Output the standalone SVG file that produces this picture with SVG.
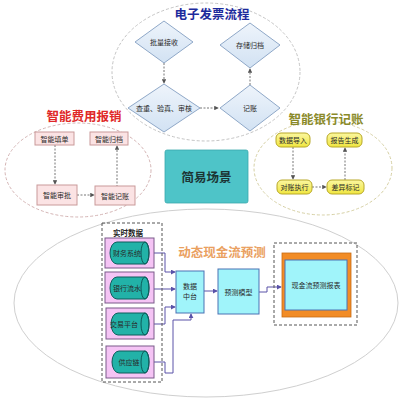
<svg xmlns="http://www.w3.org/2000/svg" width="408" height="408" viewBox="0 0 408 408">
<defs>
<style>
text{font-family:"Noto Sans CJK SC","Noto Sans",sans-serif;text-anchor:middle;dominant-baseline:central}
.t{font-size:7px;fill:#2a2a2a}
.title{font-size:12.5px;font-weight:bold}
.dia{fill:url(#dg);stroke:#8fa8c8;stroke-width:1}
.pk{fill:#fbe3e4;stroke:#c99a9a;stroke-width:1}
.yl{fill:url(#yg);stroke:#b8a828;stroke-width:1}
.dash{fill:none;stroke:#666;stroke-width:0.9;stroke-dasharray:2,1.5}
.conn{fill:none;stroke:#5a52a8;stroke-width:1}
.mag{fill:#f5c4f5;stroke:#7a5a8a;stroke-width:1}
.cyl{fill:#22b2a8;stroke:#0c5c5a;stroke-width:1}
.cy{fill:#a0f4fa;stroke:#4a72b4;stroke-width:1}
</style>
<linearGradient id="dg" x1="0" y1="0" x2="0" y2="1"><stop offset="0" stop-color="#eef4fb"/><stop offset="1" stop-color="#d2e2f3"/></linearGradient>
<linearGradient id="yg" x1="0" y1="0" x2="0" y2="1"><stop offset="0" stop-color="#fbf7a0"/><stop offset="1" stop-color="#f0e640"/></linearGradient>
<marker id="ag" viewBox="0 0 6 6" refX="5" refY="3" markerWidth="5" markerHeight="5" orient="auto"><path d="M0,0 L6,3 L0,6 z" fill="#555"/></marker>
<marker id="ab" viewBox="0 0 6 6" refX="5" refY="3" markerWidth="5" markerHeight="5" orient="auto"><path d="M0,0 L6,3 L0,6 z" fill="#5a52a8"/></marker>
</defs>
<rect width="408" height="408" fill="#ffffff"/>

<g id="areas">
<ellipse cx="206" cy="303" rx="192" ry="94" fill="none" stroke="#cfcfcf" stroke-width="1"/>
<ellipse cx="206" cy="72" rx="94" ry="69" fill="none" stroke="#c4c4c4" stroke-width="1" stroke-dasharray="3,2"/>
<ellipse cx="78" cy="170" rx="73" ry="47" fill="none" stroke="#d4b4b4" stroke-width="1" stroke-dasharray="3,2"/>
<ellipse cx="323" cy="168" rx="69" ry="47" fill="none" stroke="#d6d0a4" stroke-width="1" stroke-dasharray="3,2"/>
<text class="title" x="212" y="13" fill="#1c2a9c">电子发票流程</text>
<text class="title" x="84" y="115" fill="#e02828">智能费用报销</text>
<text class="title" x="326" y="118" fill="#8a8a2a">智能银行记账</text>
<text class="title" x="222" y="251" fill="#eaa060">动态现金流预测</text>
</g>

<g id="connectors">
<path class="dash" d="M164,63 V83" marker-end="url(#ag)"/>
<path class="dash" d="M200,108 H218" marker-end="url(#ag)"/>
<path class="dash" d="M250,85 V69" marker-end="url(#ag)"/>
<path class="dash" d="M55,145 V184" marker-end="url(#ag)"/>
<path class="dash" d="M77,195 H94" marker-end="url(#ag)"/>
<path class="dash" d="M117,187 V146" marker-end="url(#ag)"/>
<path class="dash" d="M293,147 V179" marker-end="url(#ag)"/>
<path class="dash" d="M312,187 H326" marker-end="url(#ag)"/>
<path class="dash" d="M345,180 V148" marker-end="url(#ag)"/>
<path class="conn" d="M149,253 H165 V272 H175" marker-end="url(#ab)"/>
<path class="conn" d="M149,289 H175" marker-end="url(#ab)"/>
<path class="conn" d="M149,324 H165 V307 H175" marker-end="url(#ab)"/>
<path class="conn" d="M149,362 H165 V373 H173 V320 H191 V314" marker-end="url(#ab)"/>
<path class="conn" d="M204,291 H217" marker-end="url(#ab)"/>
<path class="conn" d="M259,292 H267 V287 H281" marker-end="url(#ab)"/>
</g>

<g id="n-pljs"><path class="dia" d="M164,21 L193,42 L164,63 L135,42 Z"/><text class="t" x="164" y="42">批量接收</text></g>
<g id="n-cccd"><path class="dia" d="M250,23 L280,45 L250,68 L220,45 Z"/><text class="t" x="250" y="45">存储归档</text></g>
<g id="n-czyz"><path class="dia" d="M164,84 L200,108 L164,132 L128,108 Z"/><text class="t" x="164" y="108">查重、验真、审核</text></g>
<g id="n-jz"><path class="dia" d="M250,85 L280,108 L250,131 L220,108 Z"/><text class="t" x="250" y="108">记账</text></g>

<g id="n-zntd"><rect class="pk" x="35" y="132" width="39" height="13"/><text class="t" x="54.5" y="138.5">智能填单</text></g>
<g id="n-zngd"><rect class="pk" x="90" y="132" width="38" height="13"/><text class="t" x="109" y="138.5">智能归档</text></g>
<g id="n-znsp"><rect class="pk" x="37" y="185" width="40" height="20"/><text class="t" x="57" y="195">智能审批</text></g>
<g id="n-znjz"><rect class="pk" x="95" y="186" width="40" height="19"/><text class="t" x="115" y="195.5">智能记账</text></g>

<g id="n-sjdr"><rect class="yl" x="276" y="133" width="34" height="14" rx="5"/><text class="t" x="293" y="140">数据导入</text></g>
<g id="n-bgsc"><rect class="yl" x="327" y="133" width="35" height="14" rx="5"/><text class="t" x="344.5" y="140">报告生成</text></g>
<g id="n-dzzx"><rect class="yl" x="277" y="180" width="35" height="14" rx="5"/><text class="t" x="294.5" y="187">对账执行</text></g>
<g id="n-cybj"><rect class="yl" x="327" y="180" width="37" height="14" rx="5"/><text class="t" x="345.5" y="187">差异标记</text></g>

<g id="n-jycj"><rect x="165" y="150" width="83" height="53" rx="2" fill="#4ec4c8" stroke="#3aa8ac" stroke-width="0.8"/><text x="206.5" y="176.5" style="font-size:12.5px;font-weight:bold;fill:#1c3434">简易场景</text></g>

<g id="n-sssj">
<rect x="102" y="223" width="60" height="159" fill="none" stroke="#555" stroke-width="1" stroke-dasharray="3,2"/>
<text x="128" y="232" style="font-size:7.5px;font-weight:bold;fill:#222">实时数据</text>
</g>
<g id="n-cwxt"><rect class="mag" x="105" y="238" width="49" height="30"/><path class="cyl" d="M117,242 H145 A4,11 0 0 1 145,264 H117 A7,11 0 0 1 117,242 Z"/><ellipse cx="145" cy="253" rx="4" ry="11" fill="none" stroke="#0c5c5a" stroke-width="1"/><text class="t" x="127" y="253">财务系统</text></g>
<g id="n-yhls"><rect class="mag" x="105" y="272" width="49" height="31"/><path class="cyl" d="M117,277 H145 A4,11 0 0 1 145,299 H117 A7,11 0 0 1 117,277 Z"/><ellipse cx="145" cy="288" rx="4" ry="11" fill="none" stroke="#0c5c5a" stroke-width="1"/><text class="t" x="127" y="288">银行流水</text></g>
<g id="n-jypt"><rect class="mag" x="106" y="308" width="48" height="31"/><path class="cyl" d="M118,313 H145 A4,11 0 0 1 145,335 H118 A7,11 0 0 1 118,313 Z"/><ellipse cx="145" cy="324" rx="4" ry="11" fill="none" stroke="#0c5c5a" stroke-width="1"/><text class="t" x="124" y="324">交易平台</text></g>
<g id="n-gyl"><rect class="mag" x="106" y="346" width="48" height="32"/><path class="cyl" d="M119,351 H145 A4,11 0 0 1 145,373 H119 A7,11 0 0 1 119,351 Z"/><ellipse cx="145" cy="362" rx="4" ry="11" fill="none" stroke="#0c5c5a" stroke-width="1"/><text class="t" x="129" y="362">供应链</text></g>

<g id="n-sjzt"><rect class="cy" x="176" y="271" width="28" height="42"/><text class="t" x="190" y="286">数据</text><text class="t" x="190" y="296">中台</text></g>
<g id="n-ycmx"><rect class="cy" x="218" y="269" width="41" height="45"/><text class="t" x="238.5" y="291.5">预测模型</text></g>
<g id="n-xjlbb">
<rect x="274" y="243" width="83" height="82" fill="none" stroke="#555" stroke-width="1" stroke-dasharray="3,2"/>
<rect x="282" y="253" width="69" height="64" fill="#f28c26" stroke="#c86c14" stroke-width="0.8"/>
<rect class="cy" x="285" y="260" width="62" height="50"/>
<text class="t" x="316" y="285">现金流预测报表</text>
</g>
</svg>
